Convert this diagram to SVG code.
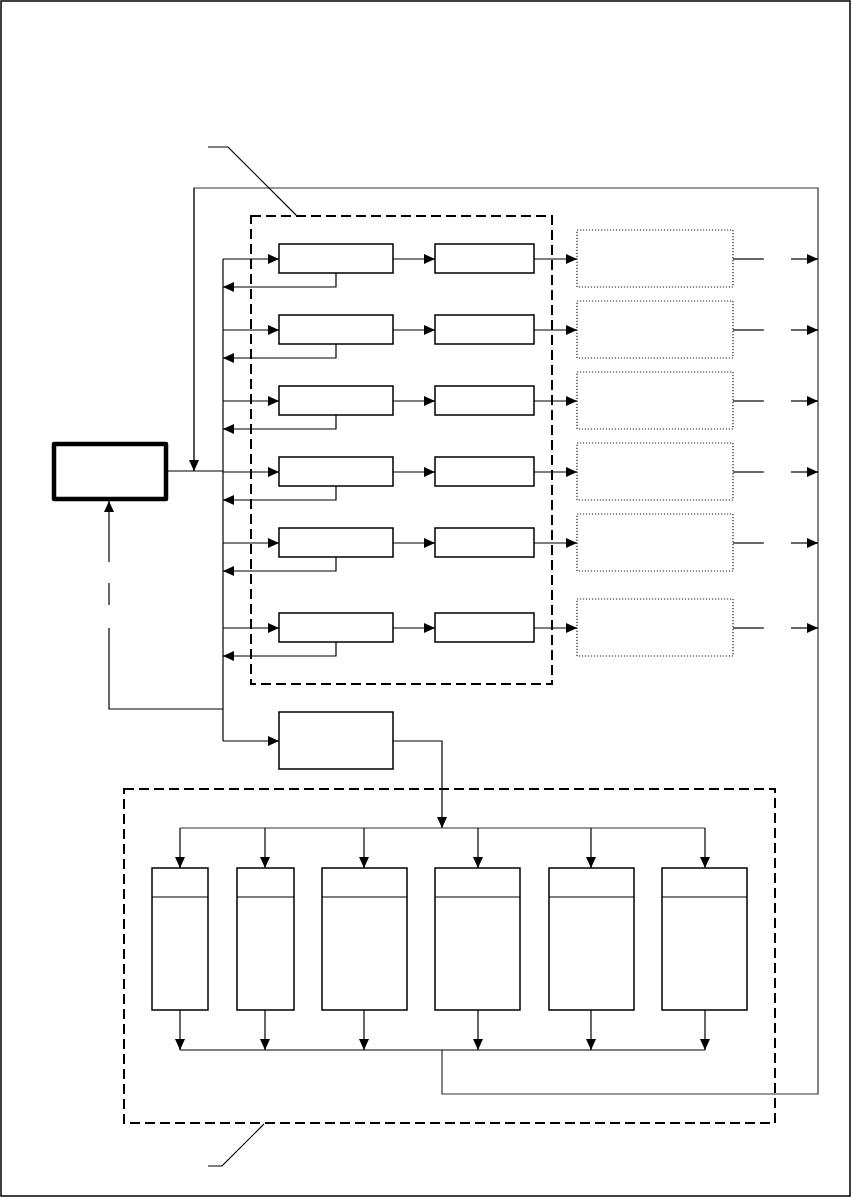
<svg xmlns="http://www.w3.org/2000/svg" width="852" height="1198" viewBox="0 0 852 1198">
<style>
.ln{fill:none;stroke:#000;stroke-width:1.2}
.gl{fill:none;stroke:#333;stroke-width:1.2}
.bx{fill:#fff;stroke:#000;stroke-width:1.5}
.dt{fill:#fff;stroke:#222;stroke-width:1.2;stroke-dasharray:1.2 1.8}
.dash{fill:none;stroke:#000;stroke-width:2;stroke-dasharray:10 5}
.ar{marker-end:url(#ah)}
</style>
<defs>
<marker id="ah" markerUnits="userSpaceOnUse" markerWidth="12" markerHeight="10" refX="11" refY="5" orient="auto">
<path d="M0,0 L11,5 L0,10 Z" fill="#000"/>
</marker>
</defs>
<rect x="1" y="1" width="849" height="1195" fill="#fff" stroke="#000" stroke-width="1.5"/>

<g id="connectors">
<path class="gl" d="M194,471 V188 H818 V1094 H442 V1050"/>
<path class="gl ar" d="M194,188 V471"/>
<path class="ln" d="M166,471 H223"/>
<path class="ln" d="M223,259 V741"/>
<g id="rows">
<path class="ln ar" d="M223,259 H279"/><path class="ln ar" d="M393,259 H435"/><path class="ln ar" d="M534,259 H577"/><path class="ln ar" d="M336,273 V287 H223"/><path class="ln" d="M733,259 H764"/><path class="ln ar" d="M791,259 H818"/>
<path class="ln ar" d="M223,330 H279"/><path class="ln ar" d="M393,330 H435"/><path class="ln ar" d="M534,330 H577"/><path class="ln ar" d="M336,344 V358 H223"/><path class="ln" d="M733,330 H764"/><path class="ln ar" d="M791,330 H818"/>
<path class="ln ar" d="M223,401 H279"/><path class="ln ar" d="M393,401 H435"/><path class="ln ar" d="M534,401 H577"/><path class="ln ar" d="M336,415 V429 H223"/><path class="ln" d="M733,401 H764"/><path class="ln ar" d="M791,401 H818"/>
<path class="ln ar" d="M223,472 H279"/><path class="ln ar" d="M393,472 H435"/><path class="ln ar" d="M534,472 H577"/><path class="ln ar" d="M336,486 V500 H223"/><path class="ln" d="M733,472 H764"/><path class="ln ar" d="M791,472 H818"/>
<path class="ln ar" d="M223,543 H279"/><path class="ln ar" d="M393,543 H435"/><path class="ln ar" d="M534,543 H577"/><path class="ln ar" d="M336,557 V571 H223"/><path class="ln" d="M733,543 H764"/><path class="ln ar" d="M791,543 H818"/>
<path class="ln ar" d="M223,628 H279"/><path class="ln ar" d="M393,628 H435"/><path class="ln ar" d="M534,628 H577"/><path class="ln ar" d="M336,642 V656 H223"/><path class="ln" d="M733,628 H764"/><path class="ln ar" d="M791,628 H818"/>
</g>
<path class="ln" d="M223,709 H109 V628"/>
<path class="ln" d="M109,605 V583"/>
<path class="ln ar" d="M109,562 V501"/>
<path class="ln ar" d="M223,741 H279"/>
<path class="ln ar" d="M393,741 H442 V828"/>
<path class="gl" d="M180,828 H705"/>
<path class="ln ar" d="M180,828 V868"/>
<path class="ln ar" d="M265,828 V868"/>
<path class="ln ar" d="M364,828 V868"/>
<path class="ln ar" d="M478,828 V868"/>
<path class="ln ar" d="M591,828 V868"/>
<path class="ln ar" d="M705,828 V868"/>
<path class="ln ar" d="M180,1010 V1050"/>
<path class="ln ar" d="M265,1010 V1050"/>
<path class="ln ar" d="M364,1010 V1050"/>
<path class="ln ar" d="M478,1010 V1050"/>
<path class="ln ar" d="M591,1010 V1050"/>
<path class="ln ar" d="M705,1010 V1050"/>
<path class="ln" d="M180,1050 H705"/>
<path class="ln" stroke-width="0.8" d="M208,147 H228 L297,216"/>
<path class="ln" stroke-width="0.8" d="M208,1166 H222 L264,1124"/>
</g>

<g id="group-upper"><rect class="dash" x="251" y="216" width="301" height="468"/></g>
<g id="group-lower"><rect class="dash" x="124" y="789" width="651" height="334"/></g>

<g id="main-box"><rect x="54" y="444" width="112" height="55" fill="#fff" stroke="#000" stroke-width="4.5" stroke-linejoin="round"/></g>

<g id="row1"><rect class="bx" x="279" y="244" width="114" height="29"/><rect class="bx" x="435" y="244" width="99" height="29"/><rect class="dt" x="577" y="230" width="156" height="57"/></g>
<g id="row2"><rect class="bx" x="279" y="315" width="114" height="29"/><rect class="bx" x="435" y="315" width="99" height="29"/><rect class="dt" x="577" y="301" width="156" height="57"/></g>
<g id="row3"><rect class="bx" x="279" y="386" width="114" height="29"/><rect class="bx" x="435" y="386" width="99" height="29"/><rect class="dt" x="577" y="372" width="156" height="57"/></g>
<g id="row4"><rect class="bx" x="279" y="457" width="114" height="29"/><rect class="bx" x="435" y="457" width="99" height="29"/><rect class="dt" x="577" y="443" width="156" height="57"/></g>
<g id="row5"><rect class="bx" x="279" y="528" width="114" height="29"/><rect class="bx" x="435" y="528" width="99" height="29"/><rect class="dt" x="577" y="514" width="156" height="57"/></g>
<g id="row6"><rect class="bx" x="279" y="613" width="114" height="29"/><rect class="bx" x="435" y="613" width="99" height="29"/><rect class="dt" x="577" y="599" width="156" height="57"/></g>

<g id="lower-box"><rect class="bx" x="279" y="712" width="114" height="57"/></g>

<g id="col1"><rect class="bx" x="152" y="868" width="56" height="142"/><line class="ln" x1="152" y1="897" x2="208" y2="897"/></g>
<g id="col2"><rect class="bx" x="237" y="868" width="57" height="142"/><line class="ln" x1="237" y1="897" x2="294" y2="897"/></g>
<g id="col3"><rect class="bx" x="322" y="868" width="85" height="142"/><line class="ln" x1="322" y1="897" x2="407" y2="897"/></g>
<g id="col4"><rect class="bx" x="435" y="868" width="85" height="142"/><line class="ln" x1="435" y1="897" x2="520" y2="897"/></g>
<g id="col5"><rect class="bx" x="549" y="868" width="85" height="142"/><line class="ln" x1="549" y1="897" x2="634" y2="897"/></g>
<g id="col6"><rect class="bx" x="662" y="868" width="85" height="142"/><line class="ln" x1="662" y1="897" x2="747" y2="897"/></g>
</svg>
